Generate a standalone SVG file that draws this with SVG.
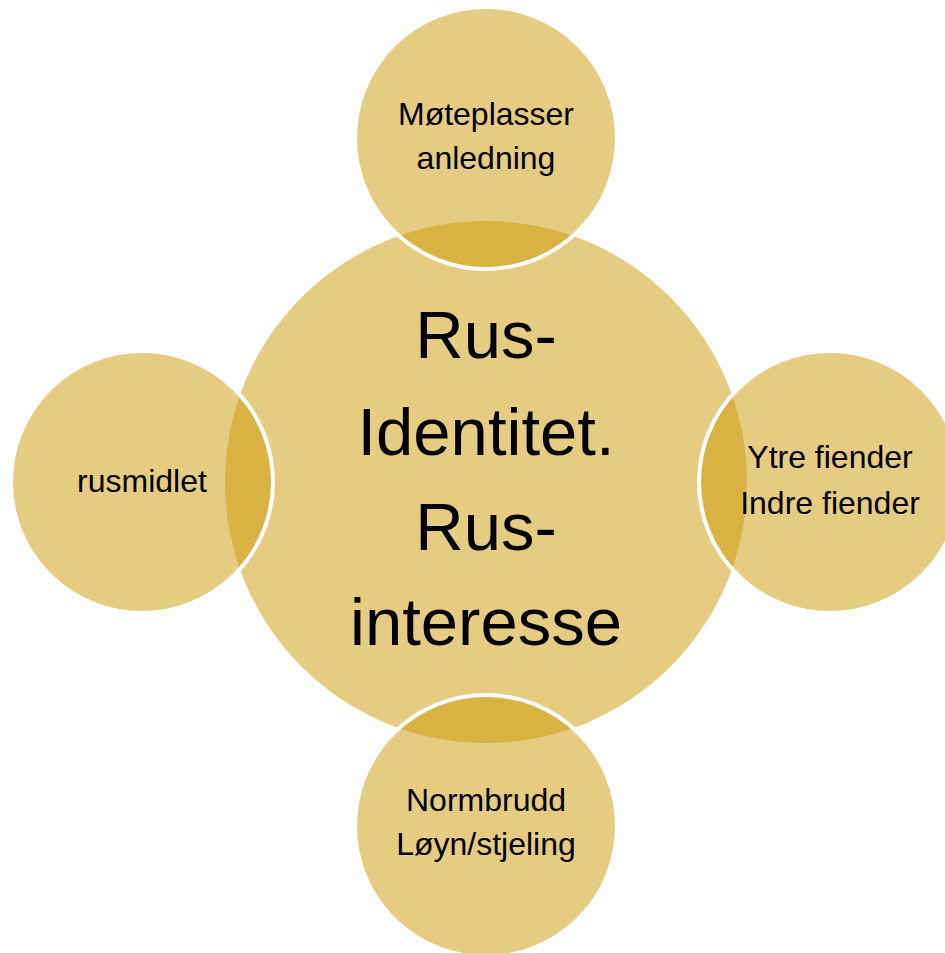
<svg xmlns="http://www.w3.org/2000/svg" width="945" height="953" viewBox="0 0 945 953">
<style>
.center{fill:#E5CC82;}
.sat{fill:#CB9905;fill-opacity:0.5;stroke:#FFFFFF;stroke-width:4;}
text{font-family:"Liberation Sans",Arial,sans-serif;fill:#000000;text-anchor:middle;}
.big{font-size:67px;}
.small{font-size:32px;}
</style>
<rect x="0" y="0" width="945" height="953" fill="#FFFFFF"/>
<g id="node-center">
<circle class="center" cx="486" cy="482" r="261"/>
</g>
<g id="node-top">
<circle class="sat" cx="486" cy="138" r="131"/>
</g>
<g id="node-right">
<circle class="sat" cx="830" cy="482" r="131"/>
</g>
<g id="node-bottom">
<circle class="sat" cx="486" cy="826" r="131"/>
</g>
<g id="node-left">
<circle class="sat" cx="142" cy="482" r="131"/>
</g>
<g id="connectors"></g>
<g id="labels">
<g id="label-center">
<text class="big" x="486" y="358">Rus-</text>
<text class="big" x="486" y="455">Identitet.</text>
<text class="big" x="486" y="550">Rus-</text>
<text class="big" x="486" y="645">interesse</text>
</g>
<g id="label-top">
<text class="small" x="486" y="125">Møteplasser</text>
<text class="small" x="486" y="169">anledning</text>
</g>
<g id="label-right">
<text class="small" x="830" y="468">Ytre fiender</text>
<text class="small" x="830" y="514">Indre fiender</text>
</g>
<g id="label-bottom">
<text class="small" x="486" y="811">Normbrudd</text>
<text class="small" x="486" y="855">Løyn/stjeling</text>
</g>
<g id="label-left">
<text class="small" x="142" y="492">rusmidlet</text>
</g>
</g>
</svg>
